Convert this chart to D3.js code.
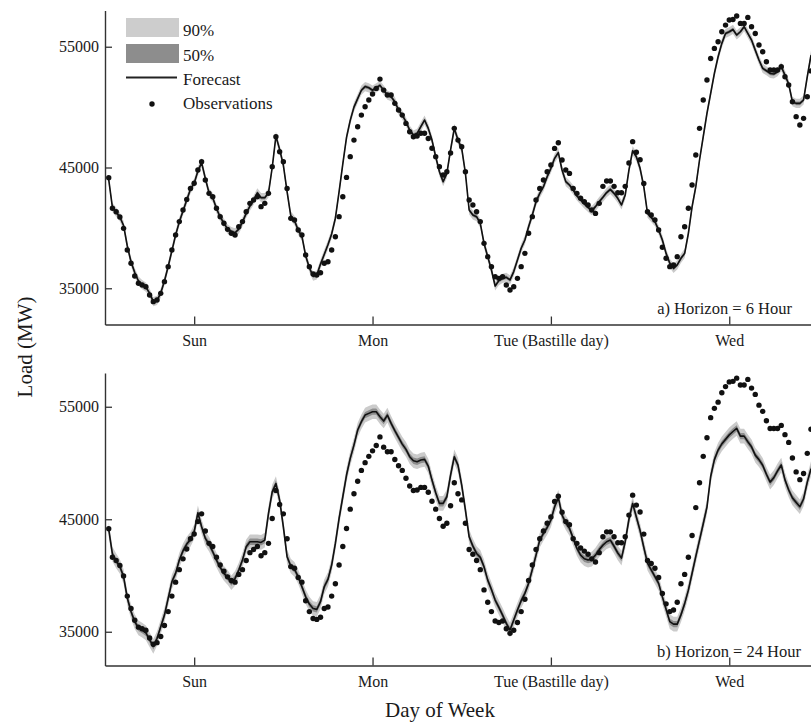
<!DOCTYPE html>
<html>
<head>
<meta charset="utf-8">
<script src="https://cdn.jsdelivr.net/npm/d3@7/dist/d3.min.js"></script>
<style>
  body { margin: 0; background: #fff; }
  svg { display: block; font-family: "Liberation Serif", "Times New Roman", serif; }
</style>
</head>
<body>
<div id="chart"></div>
<script>
var width = 811;
var height = 724;

// half-hour slots counted from Saturday noon
var slots = d3.range(1, 191);

var observed = [
  44160, 41620, 41340, 40900, 39960, 38170, 37070, 36020, 35410, 35270,
  35130, 34440, 33890, 34030, 34580, 35550, 36790, 38170, 39410, 40520,
  41480, 42360, 43270, 43690, 44790, 45480, 43960, 42860, 42580, 41620,
  40930, 40380, 39880, 39550, 39410, 40100, 40520, 41340, 42030, 42310,
  42580, 41760, 42030, 42860, 45070, 47550, 46310, 45480, 43270, 40790,
  40650, 39820, 39410, 37760, 36790, 36180, 36100, 36290, 37070, 37200,
  38170, 39270, 40930, 42580, 44180, 45900, 47270, 48380, 49340, 50030,
  50590, 51080, 51550, 52320, 51410, 51000, 51000, 50310, 49760, 49340,
  48650, 47960, 47550, 47600, 47830, 47830, 47400, 46600, 45900, 45070,
  44380, 44650, 46200, 48240, 47270, 46720, 44650, 42310, 41890, 41340,
  40520, 38720, 37620, 36790, 35960, 35820, 35960, 35270, 34860, 35130,
  35820, 36790, 37890, 39550, 40930, 42310, 43270, 43960, 44650, 45210,
  46580, 47050, 45620, 44790, 44510, 43270, 42860, 42450, 42170, 41890,
  41480, 41200, 42030, 43440, 43880, 43880, 43440, 42910, 42910, 43440,
  45370, 47140, 46260, 45640, 43680, 41340, 41070, 40650, 39820, 38400,
  37480, 36790, 36930, 37620, 39270, 40100, 41620, 43550, 46030, 48240,
  50590, 52240, 54030, 54860, 55410, 56240, 56790, 57210, 57260, 57540,
  56930, 56930, 57430, 56660, 56100, 55140, 54590, 53760, 53070, 53070,
  53070, 53340, 52520, 51830, 50450, 49210, 48520, 49070, 50860, 53000
];

var forecast6h = [
  44000, 41700, 41300, 40900, 40200, 38500, 37200, 36300, 35600, 35300,
  35100, 34600, 33900, 34000, 34600, 35600, 36800, 38100, 39400, 40500,
  41400, 42300, 43200, 43700, 44700, 45400, 44100, 42900, 42500, 41600,
  40900, 40400, 39900, 39700, 39600, 39900, 40500, 41200, 41800, 42300,
  42900, 42500, 42500, 42900, 45000, 47600, 46500, 45200, 43000, 41000,
  40600, 39800, 39300, 37700, 36700, 36000, 36100, 37000, 37800, 38600,
  39500, 40800, 43000, 45300, 47500, 48900, 50000, 50700, 51400, 51700,
  51600, 51400, 51600, 51800, 51400, 51000, 50860, 50450, 49760, 49340,
  48790, 48100, 47690, 47830, 48380, 48930, 48240, 47270, 45890, 44650,
  43830, 44510, 46450, 48240, 47270, 46580, 44510, 41480, 41070, 40930,
  40380, 38720, 37620, 36510, 35190, 35630, 35820, 35910, 35690, 36380,
  37340, 38310, 39000, 40100, 41070, 42170, 42860, 43410, 44240, 44930,
  45760, 46230, 44790, 43830, 43550, 43140, 42640, 42310, 41980, 41700,
  41430, 41760, 42170, 42530, 42920, 43190, 42860, 42450, 41900, 42720,
  44790, 46390, 45890, 44930, 43410, 41210, 40870, 40520, 39820, 39000,
  37890, 37070, 36650, 36930, 37480, 37890, 39550, 41760, 43410, 45620,
  47550, 49480, 51140, 52790, 54170, 55280, 56100, 56240, 56430, 55970,
  56240, 56660, 56100, 55550, 54720, 53900, 53210, 53010, 52790, 52740,
  52930, 53340, 52650, 51910, 50450, 50310, 50310, 50590, 52520, 54300
];

var forecast24h = [
  44100, 41900, 41300, 40800, 39900, 38000, 36800, 35900, 35350, 35150,
  34900, 34300, 33700, 34400, 35440, 36480, 37960, 39440, 40190, 41370,
  42200, 42790, 43210, 43890, 45580, 44330, 43300, 42790, 42110, 41370,
  40720, 40190, 39830, 39360, 39740, 40480, 41370, 42560, 43000, 43000,
  43000, 42940, 43150, 45520, 47440, 48180, 46700, 44330, 41670, 40840,
  40540, 39890, 39000, 38110, 37460, 37070, 36990, 37670, 39000, 39650,
  40930, 42850, 45070, 47000, 48930, 50410, 51590, 52930, 53670, 54260,
  54410, 54560, 54560, 54110, 53730, 54260, 53520, 52870, 52270, 51680,
  51210, 50560, 50200, 50110, 50260, 50320, 49730, 48480, 47360, 46410,
  46410, 47000, 48930, 50560, 49810, 48040, 45820, 43440, 42610, 41960,
  41610, 40780, 39590, 38760, 37820, 37160, 36480, 35740, 35150, 36040,
  36930, 37760, 38410, 39300, 40540, 41810, 43150, 43740, 44270, 44930,
  46110, 46940, 45370, 44690, 44190, 43300, 42410, 41810, 41490, 41370,
  41460, 41810, 42300, 42700, 43000, 43150, 42600, 42000, 41550, 43000,
  45000, 46400, 45200, 44000, 42500, 41100, 40500, 39900, 39300, 38100,
  37000, 35900, 35680, 35680, 36500, 37500, 38700, 40200, 41700, 43150,
  44600, 46080, 48800, 50300, 51150, 51700, 52100, 52500, 52800, 53070,
  52390, 52390, 51890, 51440, 50700, 50300, 49800, 49000, 48300, 48700,
  49300, 49820, 48500, 47600, 46900, 46500, 46110, 46800, 48300, 49500
];

// half-widths of the prediction intervals (MW), 6 h and 24 h horizon
var band90Width = [380, 650];
var band50Width = [150, 280];

var dayTicks = [24, 72, 120, 168];
var dayLabels = ["Sun", "Mon", "Tue (Bastille day)", "Wed"];
var loadTicks = [35000, 45000, 55000];
var panelLabels = ["a) Horizon = 6 Hour", "b) Horizon = 24 Hour"];
var legendLabels = ["90%", "50%", "Forecast", "Observations"];

var fontFamily = '"Liberation Serif", "Times New Roman", serif';
var ink = "#1a1a1a";

function createSVG(width, height) {
  return d3.select("#chart")
    .append("svg")
    .attr("width", width)
    .attr("height", height)
    .style("background", "#fff");
}

function getXScale() {
  return d3.scaleLinear()
    .domain([0, 190])
    .range([105, 811]);
}

function styleAxis(g) {
  g.attr("font-family", fontFamily)
    .attr("font-size", 16);
  g.selectAll(".domain").attr("stroke", "#333").attr("stroke-width", 1.4);
  g.selectAll(".tick line").attr("stroke", "#333").attr("stroke-width", 1.3);
  g.selectAll(".tick text").attr("fill", ink);
}

function drawPanel(svg, x, p) {
  var y = d3.scaleLinear()
    .domain([32000, 58000])
    .range([p.bottom, p.top]);

  var rows = slots.map(function(s, i) {
    return { t: s, obs: observed[i], fc: p.forecast[i] };
  });

  var g = svg.append("g");

  var area90 = d3.area()
    .x(function(d) { return x(d.t); })
    .y0(function(d) { return y(d.fc - p.band90); })
    .y1(function(d) { return y(d.fc + p.band90); });

  var area50 = d3.area()
    .x(function(d) { return x(d.t); })
    .y0(function(d) { return y(d.fc - p.band50); })
    .y1(function(d) { return y(d.fc + p.band50); });

  var line = d3.line()
    .x(function(d) { return x(d.t); })
    .y(function(d) { return y(d.fc); });

  g.append("path").datum(rows).attr("d", area90).attr("fill", "#cbcbcb");
  g.append("path").datum(rows).attr("d", area50).attr("fill", "#8d8d8d");
  g.append("path").datum(rows)
    .attr("d", line)
    .attr("fill", "none")
    .attr("stroke", "#111")
    .attr("stroke-width", 1.6)
    .attr("stroke-linejoin", "round");

  g.selectAll("circle.obs")
    .data(rows)
    .enter()
    .append("circle")
    .attr("class", "obs")
    .attr("cx", function(d) { return x(d.t); })
    .attr("cy", function(d) { return y(d.obs); })
    .attr("r", 2.7)
    .attr("fill", "#111");

  // axes, ticks pointing inward
  var xAxis = d3.axisBottom(x)
    .tickValues(dayTicks)
    .tickFormat(function(d, i) { return dayLabels[i]; })
    .tickSize(-8)
    .tickSizeOuter(0)
    .tickPadding(10);

  var yAxis = d3.axisLeft(y)
    .tickValues(loadTicks)
    .tickFormat(d3.format("d"))
    .tickSize(-7)
    .tickSizeOuter(0)
    .tickPadding(6);

  g.append("g")
    .attr("transform", "translate(0," + p.bottom + ")")
    .call(xAxis)
    .call(styleAxis);

  g.append("g")
    .attr("transform", "translate(" + x(0) + ",0)")
    .call(yAxis)
    .call(styleAxis);

  g.append("text")
    .attr("x", p.labelX)
    .attr("y", p.labelY)
    .attr("text-anchor", "end")
    .attr("font-family", fontFamily)
    .attr("font-size", 16.5)
    .attr("fill", ink)
    .text(p.label);
}

function drawLegend(svg) {
  var lg = svg.append("g").attr("font-family", fontFamily).attr("font-size", 17).attr("fill", ink);

  lg.append("rect").attr("x", 126).attr("y", 18).attr("width", 53).attr("height", 19).attr("fill", "#cdcdcd");
  lg.append("rect").attr("x", 126).attr("y", 44).attr("width", 53).attr("height", 19).attr("fill", "#8d8d8d");
  lg.append("line").attr("x1", 126).attr("x2", 177).attr("y1", 77.5).attr("y2", 77.5)
    .attr("stroke", "#222").attr("stroke-width", 2);
  lg.append("circle").attr("cx", 152).attr("cy", 104).attr("r", 2.7).attr("fill", "#111");

  var baselines = [36, 61, 85, 109];
  lg.selectAll("text")
    .data(legendLabels)
    .enter()
    .append("text")
    .attr("x", 183)
    .attr("y", function(d, i) { return baselines[i]; })
    .text(function(d) { return d; });
}

function drawTitles(svg) {
  svg.append("text")
    .attr("transform", "translate(32,347) rotate(-90)")
    .attr("text-anchor", "middle")
    .attr("font-family", fontFamily)
    .attr("font-size", 21)
    .attr("fill", ink)
    .text("Load (MW)");

  svg.append("text")
    .attr("x", 440)
    .attr("y", 717)
    .attr("text-anchor", "middle")
    .attr("font-family", fontFamily)
    .attr("font-size", 21)
    .attr("fill", ink)
    .text("Day of Week");
}

function main() {
  var svg = createSVG(width, height);
  var x = getXScale();

  var panels = [
    { forecast: forecast6h, band90: band90Width[0], band50: band50Width[0],
      top: 10.5, bottom: 324.5, label: panelLabels[0], labelX: 792, labelY: 314 },
    { forecast: forecast24h, band90: band90Width[1], band50: band50Width[1],
      top: 373, bottom: 665.5, label: panelLabels[1], labelX: 801, labelY: 657 }
  ];

  panels.forEach(function(p) { drawPanel(svg, x, p); });
  drawLegend(svg);
  drawTitles(svg);
}

window.onload = function() {
  main();
};
</script>
</body>
</html>
